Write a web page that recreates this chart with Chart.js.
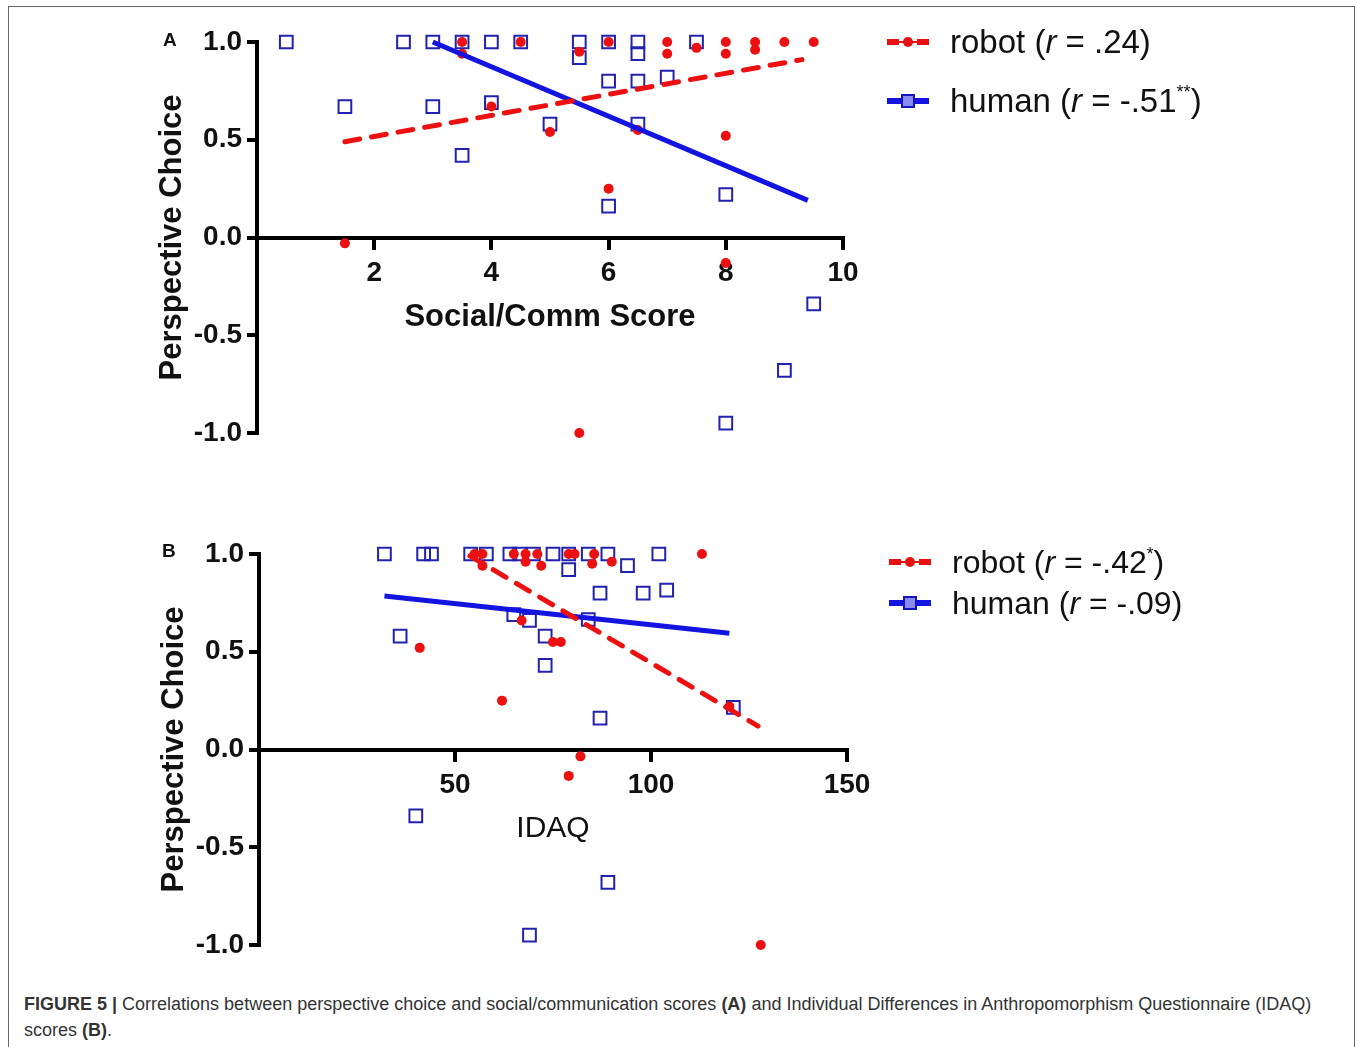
<!DOCTYPE html>
<html>
<head>
<meta charset="utf-8">
<script src="https://cdn.jsdelivr.net/npm/chart.js@4.4.0/dist/chart.umd.min.js"></script>
<style>
    body { margin: 0; background: #fff; font-family: "Liberation Sans", Arial, sans-serif; }
    #fig { position: relative; width: 1357px; height: 1047px; overflow: hidden; }
    #frame { position: absolute; left: 8px; top: 6px; width: 1345px; height: 1080px; border: 1.5px solid #666; }
    .panel { position: absolute; left: 0; }
    .tag { position: absolute; font-weight: bold; font-size: 19px; color: #111; }
    .legend { position: absolute; color: #111; }
    .legend .row { position: absolute; left: 0; white-space: nowrap; display: flex; align-items: center; height: 40px; }
    .legend svg { margin-right: 19px; }
    .legend i { font-style: italic; }
    .legend sup { font-size: 55%; vertical-align: 0.75em; line-height: 0; }
    #caption { position: absolute; left: 24px; top: 991px; width: 1305px; font-size: 18px; line-height: 26px; color: #333; }
</style>
</head>
<body>
<div id="fig">
    <div id="frame"></div>
    <canvas id="chartA" class="panel" width="1357" height="470" style="top:0px"></canvas>
    <canvas id="chartB" class="panel" width="1357" height="470" style="top:512px"></canvas>
    <div class="tag" style="left:163px; top:29px;">A</div>
    <div class="tag" style="left:162px; top:540px;">B</div>

    <div class="legend" style="left:885px; top:22px; font-size:33px;">
        <div class="row" style="top:0px;">
            <svg width="46" height="20"><line x1="2" y1="10" x2="14" y2="10" stroke="#e81010" stroke-width="6"/><line x1="32" y1="10" x2="44" y2="10" stroke="#e81010" stroke-width="6"/><line x1="14" y1="10" x2="32" y2="10" stroke="#e81010" stroke-width="2"/><circle cx="23" cy="10" r="5" fill="#e81010"/></svg>
            <span>robot (<i>r</i> = .24)</span>
        </div>
        <div class="row" style="top:59px;">
            <svg width="46" height="20"><line x1="2" y1="10" x2="44" y2="10" stroke="#1414e0" stroke-width="6"/><rect x="17" y="4" width="12" height="12" fill="#8a8af0" stroke="#1414c0" stroke-width="2"/></svg>
            <span>human (<i>r</i> = -.51<sup>**</sup>)</span>
        </div>
    </div>

    <div class="legend" style="left:887px; top:542px; font-size:32px;">
        <div class="row" style="top:0px;">
            <svg width="46" height="20"><line x1="2" y1="10" x2="14" y2="10" stroke="#e81010" stroke-width="6"/><line x1="32" y1="10" x2="44" y2="10" stroke="#e81010" stroke-width="6"/><line x1="14" y1="10" x2="32" y2="10" stroke="#e81010" stroke-width="2"/><circle cx="23" cy="10" r="5" fill="#e81010"/></svg>
            <span>robot (<i>r</i> = -.42<sup>*</sup>)</span>
        </div>
        <div class="row" style="top:41px;">
            <svg width="46" height="20"><line x1="2" y1="10" x2="44" y2="10" stroke="#1414e0" stroke-width="6"/><rect x="17" y="4" width="12" height="12" fill="#8a8af0" stroke="#1414c0" stroke-width="2"/></svg>
            <span>human (<i>r</i> = -.09)</span>
        </div>
    </div>

    <div id="caption"><b>FIGURE 5 |</b> Correlations between perspective choice and social/communication scores <b>(A)</b> and Individual Differences in Anthropomorphism Questionnaire (IDAQ) scores <b>(B)</b>.</div>
</div>

<script>
// Shared y axis ticks
const yTicks = [-1, -0.5, 0, 0.5, 1];

// Panel A - Social/Comm score
const xTicksA = [2, 4, 6, 8, 10];
const humanAx = [0.5, 1.5, 2.5, 3, 3, 3.5, 3.5, 4, 4, 4.5, 5, 5.5, 5.5, 6, 6, 6, 6.5, 6.5, 6.5, 6.5, 7, 7.5, 8, 8, 9, 9.5];
const humanAy = [1, 0.67, 1, 1, 0.67, 1, 0.42, 1, 0.69, 1, 0.58, 1, 0.92, 1, 0.80, 0.16, 1, 0.94, 0.80, 0.58, 0.82, 1, 0.22, -0.95, -0.68, -0.34];
const robotAx = [1.5, 3.5, 3.5, 4, 4.5, 5, 5.5, 5.5, 6, 6, 6.5, 7, 7, 7.5, 8, 8, 8, 8, 8.5, 8.5, 9, 9.5];
const robotAy = [-0.03, 1, 0.94, 0.67, 1, 0.54, 0.95, -1, 1, 0.25, 0.55, 1, 0.94, 0.97, 1, 0.94, 0.52, -0.13, 1, 0.96, 1, 1];
const robotFitAx = [1.5, 9.3];
const robotFitAy = [0.49, 0.91];
const humanFitAx = [3.0, 9.4];
const humanFitAy = [1.0, 0.19];

// Panel B - IDAQ
const xTicksB = [50, 100, 150];
const humanBx = [32, 36, 42, 44, 54, 58, 64, 66.5, 70, 75, 79, 79, 84, 89, 102, 94, 87, 98, 104, 84, 65, 69, 73, 73, 121, 87, 40, 89, 69];
const humanBy = [1, 0.58, 1, 1, 1, 1, 1, 1, 1, 1, 1, 0.92, 1, 1, 1, 0.94, 0.80, 0.80, 0.815, 0.665, 0.69, 0.66, 0.58, 0.43, 0.215, 0.16, -0.34, -0.68, -0.95];
const robotBx = [41, 62, 55, 57, 57, 65, 68, 71, 68, 72, 79, 80.5, 75, 77, 67, 85.5, 85, 90, 113, 120, 82, 79, 128];
const robotBy = [0.52, 0.25, 1, 1, 0.94, 1, 1, 1, 0.96, 0.94, 1, 1, 0.55, 0.55, 0.66, 1, 0.95, 0.96, 1, 0.22, -0.035, -0.135, -1.0];
const robotFitBx = [53.8, 127.3];
const robotFitBy = [0.99, 0.12];
const humanFitBx = [32, 120];
const humanFitBy = [0.785, 0.595];

const FONT = '"Liberation Sans", Arial, sans-serif';
const RED = '#ec1010';
const BLUE = '#1414e0';
const NAVY = '#2222b0';

function toPoints(xs, ys) {
    return xs.map((x, i) => ({ x: x, y: ys[i] }));
}

function makePanel(canvasId, o) {
    const ctx = document.getElementById(canvasId);
    return new Chart(ctx, {
        type: 'scatter',
        data: {
            datasets: [
                {
                    label: 'robot fit',
                    data: toPoints(o.robotFitX, o.robotFitY),
                    showLine: true,
                    borderColor: RED,
                    borderWidth: 5,
                    borderDash: [15, 12],
                    borderCapStyle: 'round',
                    pointRadius: 0,
                    clip: false
                },
                {
                    label: 'human fit',
                    data: toPoints(o.humanFitX, o.humanFitY),
                    showLine: true,
                    borderColor: BLUE,
                    borderWidth: 5,
                    pointRadius: 0,
                    clip: false
                },
                {
                    label: 'robot',
                    data: toPoints(o.robotX, o.robotY),
                    pointStyle: 'circle',
                    pointRadius: 5,
                    backgroundColor: RED,
                    borderWidth: 0,
                    clip: false
                },
                {
                    label: 'human',
                    data: toPoints(o.humanX, o.humanY),
                    pointStyle: 'rect',
                    pointRadius: 9,
                    backgroundColor: 'rgba(255,255,255,0)',
                    borderColor: NAVY,
                    borderWidth: 2,
                    clip: false
                }
            ]
        },
        options: {
            responsive: false,
            animation: false,
            events: [],
            layout: { padding: { left: o.padLeft, right: o.padRight, top: 42, bottom: 37 } },
            plugins: {
                legend: { display: false },
                tooltip: { enabled: false }
            },
            scales: {
                x: {
                    type: 'linear',
                    position: { y: 0 },
                    min: 0,
                    max: o.xMax,
                    afterBuildTicks: (s) => { s.ticks = o.xTicks.map(v => ({ value: v })); },
                    grid: { drawOnChartArea: false, drawTicks: true, tickLength: 10, color: '#000', lineWidth: 4 },
                    border: { display: true, color: '#000', width: 4 },
                    ticks: { color: '#111', padding: 9, maxRotation: 0, font: { family: FONT, size: 28, weight: 'bold' } },
                    title: {
                        display: true,
                        text: o.xTitle,
                        color: '#111',
                        padding: { top: 0, bottom: 0 },
                        font: { family: FONT, size: o.xTitleSize, weight: o.xTitleWeight }
                    }
                },
                y: {
                    type: 'linear',
                    position: 'left',
                    min: -1,
                    max: 1,
                    afterBuildTicks: (s) => { s.ticks = yTicks.map(v => ({ value: v })); },
                    afterFit: (s) => { s.width = o.yWidth; },
                    grid: { drawOnChartArea: false, drawTicks: true, tickLength: 10, color: '#000', lineWidth: 4 },
                    border: { display: true, color: '#000', width: 4 },
                    ticks: {
                        color: '#111',
                        padding: 5,
                        font: { family: FONT, size: 28, weight: 'bold' },
                        callback: (v) => Number(v).toFixed(1)
                    },
                    title: {
                        display: true,
                        text: 'Perspective Choice',
                        color: '#111',
                        padding: { top: 0, bottom: 0 },
                        font: { family: FONT, size: 31, weight: 'bold' }
                    }
                }
            }
        }
    });
}

window.chartA = makePanel('chartA', {
    xTicks: xTicksA, xMax: 10, xTitle: 'Social/Comm Score', xTitleWeight: 'bold', xTitleSize: 31,
    humanX: humanAx, humanY: humanAy, robotX: robotAx, robotY: robotAy,
    robotFitX: robotFitAx, robotFitY: robotFitAy, humanFitX: humanFitAx, humanFitY: humanFitAy,
    padLeft: 154, yWidth: 103, padRight: 514
});

window.chartB = makePanel('chartB', {
    xTicks: xTicksB, xMax: 150, xTitle: 'IDAQ', xTitleWeight: 'normal', xTitleSize: 30,
    humanX: humanBx, humanY: humanBy, robotX: robotBx, robotY: robotBy,
    robotFitX: robotFitBx, robotFitY: robotFitBy, humanFitX: humanFitBx, humanFitY: humanFitBy,
    padLeft: 156, yWidth: 103, padRight: 510
});
</script>
</body>
</html>
